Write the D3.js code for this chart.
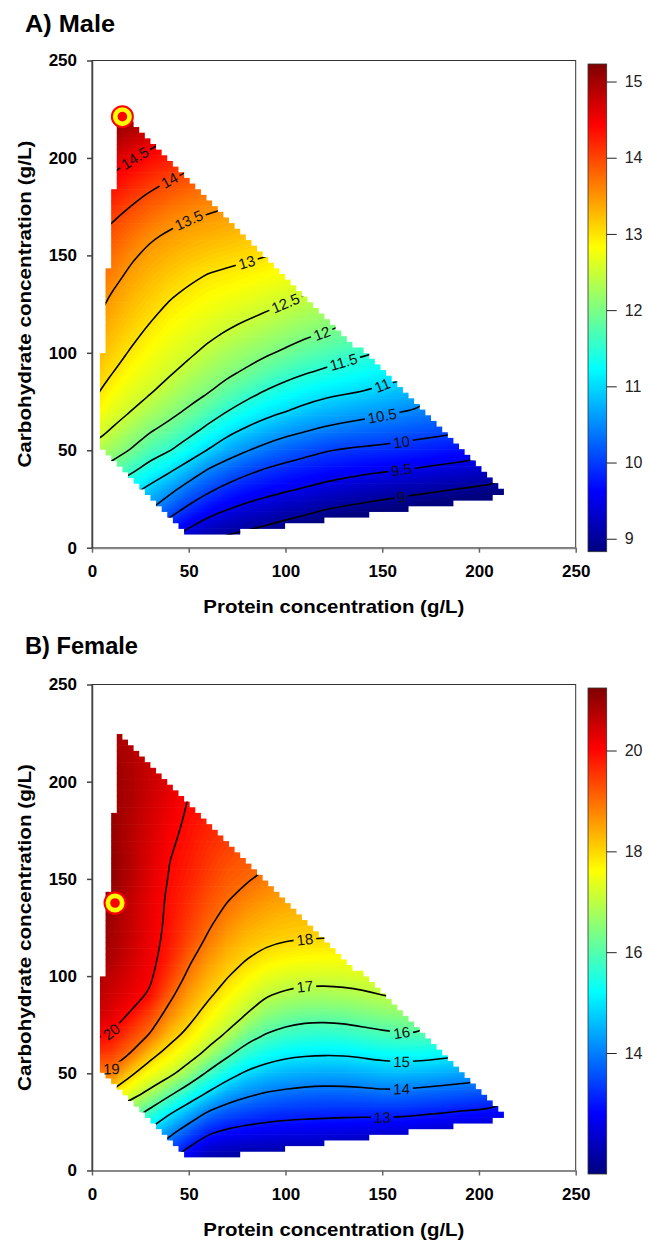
<!DOCTYPE html>
<html>
<head>
<meta charset="utf-8">
<script src="https://cdn.jsdelivr.net/npm/d3@7"></script>
<style>
  body { margin: 0; background: #fff; }
  svg text { font-family: "Liberation Sans", Arial, sans-serif; }
</style>
</head>
<body>
<svg id="chart" width="649" height="1242"></svg>
<script>
// grid nodes of the response surface (g/L)
const proteinNodes = d3.range(0, 221, 10);
const carbNodes = d3.range(0, 231, 10);

// first carbohydrate node given for each protein column
const maleStart = [40, 30, 20, 10, 0, 0, 0, 0, 0, 0, 0, 10, 10, 10, 10, 10, 10, 10, 20, 20, 20, 20, 20];
// male response, one array per protein column, carbohydrate going up in steps of 10
const maleValues = [
  [12.07, 12.43, 12.69, 12.93, 13.09, 13.22, 13.35, 13.47, 13.59, 13.70, 13.80, 13.91, 14.03, 14.20, 14.37, 14.55],
  [11.38, 11.85, 12.19, 12.47, 12.67, 12.85, 13.02, 13.14, 13.26, 13.37, 13.49, 13.63, 13.76, 13.90, 14.06, 14.26, 14.46, 14.71, 14.97, 15.20, 15.30],
  [10.76, 11.16, 11.60, 11.98, 12.24, 12.50, 12.66, 12.81, 12.97, 13.09, 13.20, 13.31, 13.43, 13.56, 13.73, 13.90, 14.09, 14.30, 14.53, 14.81, 15.08, 15.30],
  [10.09, 10.52, 10.89, 11.32, 11.70, 12.03, 12.30, 12.53, 12.67, 12.80, 12.93, 13.06, 13.17, 13.29, 13.41, 13.55, 13.75, 13.94, 14.16, 14.39, 14.65, 14.94],
  [9.33, 9.76, 10.20, 10.63, 11.07, 11.52, 11.85, 12.13, 12.35, 12.54, 12.67, 12.79, 12.91, 13.04, 13.17, 13.31, 13.45, 13.62, 13.83, 14.03, 14.27, 14.50],
  [8.97, 9.50, 9.92, 10.31, 10.79, 11.26, 11.63, 11.94, 12.17, 12.38, 12.56, 12.68, 12.81, 12.94, 13.07, 13.22, 13.37, 13.53, 13.73, 13.94, 14.14],
  [8.85, 9.27, 9.68, 10.08, 10.48, 10.98, 11.38, 11.72, 12.02, 12.22, 12.41, 12.58, 12.72, 12.85, 12.99, 13.15, 13.32, 13.48, 13.64, 13.81],
  [8.75, 9.13, 9.52, 9.88, 10.28, 10.70, 11.12, 11.50, 11.81, 12.08, 12.27, 12.47, 12.63, 12.79, 12.94, 13.10, 13.27, 13.43, 13.60],
  [8.68, 9.04, 9.39, 9.74, 10.10, 10.52, 10.92, 11.30, 11.64, 11.94, 12.16, 12.37, 12.56, 12.73, 12.89, 13.06, 13.21, 13.37],
  [8.60, 8.95, 9.30, 9.64, 9.97, 10.36, 10.76, 11.13, 11.47, 11.77, 12.05, 12.27, 12.48, 12.66, 12.83, 13.01, 13.18],
  [8.52, 8.86, 9.19, 9.55, 9.87, 10.23, 10.62, 11.01, 11.33, 11.64, 11.94, 12.17, 12.39, 12.59, 12.78, 12.96],
  [8.77, 9.12, 9.47, 9.78, 10.13, 10.52, 10.88, 11.21, 11.53, 11.81, 12.07, 12.29, 12.51, 12.70],
  [8.67, 9.02, 9.38, 9.71, 10.03, 10.42, 10.78, 11.11, 11.44, 11.72, 11.99, 12.22, 12.43],
  [8.60, 8.95, 9.31, 9.65, 9.97, 10.35, 10.71, 11.05, 11.35, 11.63, 11.89, 12.16],
  [8.55, 8.90, 9.24, 9.59, 9.93, 10.29, 10.65, 10.99, 11.27, 11.55, 11.82],
  [8.49, 8.84, 9.19, 9.55, 9.90, 10.24, 10.58, 10.90, 11.20, 11.49],
  [8.43, 8.79, 9.14, 9.50, 9.86, 10.19, 10.51, 10.82, 11.14],
  [8.36, 8.73, 9.09, 9.46, 9.81, 10.14, 10.45, 10.76],
  [8.67, 9.04, 9.41, 9.76, 10.09, 10.39],
  [8.61, 8.99, 9.36, 9.71, 10.05],
  [8.56, 8.94, 9.31, 9.67],
  [8.51, 8.89, 9.27],
  [8.46, 8.84]
];

const femaleStart = [40, 30, 20, 10, 0, 0, 0, 0, 0, 0, 0, 10, 10, 10, 10, 10, 10, 10, 20, 20, 20, 20, 20];
const femaleValues = [
  [18.40, 18.90, 19.60, 20.15, 20.55, 20.70, 20.85, 20.95, 21.05, 21.10, 21.15, 21.15, 21.15, 21.10, 21.10, 21.05],
  [16.90, 17.90, 18.87, 19.44, 19.95, 20.30, 20.50, 20.64, 20.81, 20.90, 20.94, 20.99, 21.09, 21.10, 21.05, 21.05, 21.00, 21.02, 20.97, 20.92, 20.90],
  [15.52, 16.43, 17.32, 18.13, 18.96, 19.45, 19.93, 20.23, 20.37, 20.49, 20.56, 20.59, 20.62, 20.71, 20.73, 20.72, 20.74, 20.80, 20.81, 20.78, 20.75, 20.75],
  [14.00, 14.83, 15.80, 16.84, 17.56, 18.23, 18.97, 19.40, 19.92, 20.10, 20.17, 20.22, 20.24, 20.26, 20.32, 20.37, 20.40, 20.45, 20.51, 20.55, 20.55, 20.55],
  [12.60, 13.40, 14.22, 15.11, 16.19, 17.19, 17.75, 18.27, 18.76, 19.15, 19.50, 19.74, 19.84, 19.89, 19.91, 19.97, 20.01, 20.08, 20.15, 20.23, 20.29, 20.32],
  [12.08, 12.85, 13.62, 14.53, 15.55, 16.61, 17.33, 17.83, 18.21, 18.54, 18.87, 19.15, 19.40, 19.53, 19.63, 19.74, 19.80, 19.87, 19.93, 19.98, 20.03],
  [11.50, 12.29, 13.12, 13.96, 14.95, 15.88, 16.81, 17.33, 17.73, 18.10, 18.38, 18.66, 18.94, 19.15, 19.30, 19.45, 19.55, 19.65, 19.75, 19.85],
  [11.41, 12.15, 12.89, 13.63, 14.44, 15.32, 16.15, 16.92, 17.32, 17.68, 18.03, 18.29, 18.55, 18.81, 19.04, 19.19, 19.33, 19.48, 19.60],
  [11.39, 12.08, 12.77, 13.46, 14.16, 14.89, 15.63, 16.32, 16.97, 17.34, 17.70, 18.04, 18.29, 18.55, 18.81, 19.05, 19.20, 19.35],
  [11.40, 12.05, 12.69, 13.34, 13.98, 14.66, 15.33, 15.98, 16.52, 17.04, 17.44, 17.84, 18.15, 18.39, 18.63, 18.88, 19.10],
  [11.41, 12.02, 12.64, 13.26, 13.88, 14.52, 15.15, 15.77, 16.33, 16.87, 17.31, 17.72, 18.07, 18.29, 18.52, 18.74],
  [12.02, 12.62, 13.22, 13.81, 14.44, 15.08, 15.66, 16.23, 16.78, 17.25, 17.66, 18.04, 18.25, 18.47],
  [11.99, 12.59, 13.19, 13.78, 14.41, 15.05, 15.64, 16.22, 16.77, 17.23, 17.64, 18.02, 18.23],
  [11.94, 12.56, 13.17, 13.79, 14.42, 15.06, 15.67, 16.26, 16.81, 17.25, 17.62, 18.00],
  [11.87, 12.52, 13.17, 13.82, 14.48, 15.14, 15.78, 16.35, 16.89, 17.28, 17.62],
  [11.79, 12.49, 13.18, 13.88, 14.57, 15.24, 15.88, 16.45, 16.99, 17.31],
  [11.78, 12.47, 13.17, 13.86, 14.58, 15.28, 15.95, 16.52, 17.08],
  [11.71, 12.41, 13.10, 13.80, 14.54, 15.27, 15.97, 16.58],
  [12.33, 13.04, 13.74, 14.46, 15.19, 15.96],
  [12.25, 12.96, 13.68, 14.38, 15.08],
  [12.20, 12.91, 13.61, 14.30],
  [12.13, 12.84, 13.54],
  [12.10, 12.79]
];

const maleLevels = [9, 9.5, 10, 10.5, 11, 11.5, 12, 12.5, 13, 13.5, 14, 14.5];
const femaleLevels = [13, 14, 15, 16, 17, 18, 19, 20];
const maleBarTicks = [9, 10, 11, 12, 13, 14, 15];
const femaleBarTicks = [14, 16, 18, 20];
const maleBarRange = [8.83, 15.23];
const femaleBarRange = [11.6, 21.24];

// contour labels: [level, protein, carbohydrate]
const maleLabels = [
  [14.5, 24.3, 200.5], [14, 38.5, 187.5], [13.5, 53.3, 168], [13, 82.2, 146.4],
  [12.5, 98.1, 123.7], [12, 116.6, 108.7], [11.5, 130.8, 94.6], [11, 145.8, 81.7],
  [10.5, 150.2, 67.4], [10, 157.2, 53.8], [9.5, 160.5, 39.9], [9, 162.4, 26.3]
];
const femaleLabels = [
  [20, 11.9, 72.3], [19, 13.6, 56.4], [18, 112.2, 117.7], [17, 111.8, 93.7],
  [16, 160.1, 70.6], [15, 159.7, 55.6], [14, 156.7, 41], [13, 151.6, 26.4]
];

// optimum points [protein, carbohydrate]
const maleOptimum = [15.7, 221.2];
const femaleOptimum = [11.9, 137.6];

// outline of the experimental domain [protein, carbohydrate]
const domainOutline = [[4.0, 52.8], [5.55, 100], [14.1, 223.4], [213.2, 28.5], [213.2, 26.4], [76.5, 8.35], [49.3, 7.5]];

const axisTicks = [0, 50, 100, 150, 200, 250];
const jetStops = [0, 0.125, 0.375, 0.5, 0.625, 0.875, 1];
const jetColors = ["#00007f", "#0000ff", "#00ffff", "#80ff80", "#ffff00", "#ff0000", "#7f0000"];

const svg = d3.select("#chart");
const plotLeft = 92, plotRight = 575.7;
const barLeft = 588, barWidth = 18.7;

const panels = [
  { key: "m", title: "A) Male", titleY: 32, titleW: 90, top: 60.5, bottom: 547.7, barTop: 64, barBottom: 551.7,
    start: maleStart, values: maleValues, levels: maleLevels, barTicks: maleBarTicks, barRange: maleBarRange,
    labels: maleLabels, optimum: maleOptimum },
  { key: "f", title: "B) Female", titleY: 654, titleW: 113, top: 684.5, bottom: 1170.5, barTop: 688, barBottom: 1174,
    start: femaleStart, values: femaleValues, levels: femaleLevels, barTicks: femaleBarTicks, barRange: femaleBarRange,
    labels: femaleLabels, optimum: femaleOptimum }
];

function buildGrid(start, cols) {
  const n = proteinNodes.length, m = carbNodes.length;
  const g = new Array(n * m);
  cols.forEach((col, i) => {
    const j0 = Math.round((start[i] - carbNodes[0]) / 10);
    for (let j = 0; j < m; j++) {
      // nodes beyond a column's range are only padding, they are clipped out
      const k = Math.max(0, Math.min(col.length - 1, j - j0));
      g[j * n + i] = col[k];
    }
  });
  return g;
}

// stepped raster of the domain, as drawn by the plotting package
function domainRuns() {
  const runs = [], cell = 2.9, p0 = 1.2, c0 = 1.1;
  for (let j = 0; j < 80; j++) {
    const c = c0 + (j + 0.5) * cell;
    let s = -1;
    for (let i = 0; i <= 76; i++) {
      const inside = i < 76 && d3.polygonContains(domainOutline, [p0 + (i + 0.5) * cell, c]);
      if (inside && s < 0) s = i;
      if (!inside && s >= 0) {
        runs.push({ p: p0 + s * cell, w: (i - s) * cell, c: c0 + j * cell, h: cell });
        s = -1;
      }
    }
  }
  return runs;
}
const runs = domainRuns();

const defs = svg.append("defs");

panels.forEach(p => {
  const x = d3.scaleLinear().domain([0, 250]).range([plotLeft, plotRight]);
  const y = d3.scaleLinear().domain([0, 250]).range([p.bottom, p.top]);
  const [lo, hi] = p.barRange;
  const color = d3.scaleLinear()
    .domain(jetStops.map(s => lo + s * (hi - lo)))
    .range(jetColors)
    .clamp(true);

  const n = proteinNodes.length, m = carbNodes.length;
  const grid = buildGrid(p.start, p.values);
  const step = proteinNodes[1] - proteinNodes[0];
  const toPx = ([gx, gy]) => [x(proteinNodes[0] + (gx - 0.5) * step), y(carbNodes[0] + (gy - 0.5) * step)];
  const path = d3.geoPath(d3.geoTransform({
    point(gx, gy) { const q = toPx([gx, gy]); this.stream.point(q[0], q[1]); }
  }));
  const gen = d3.contours().size([n, m]);

  // clip to domain
  defs.append("clipPath").attr("id", "dom-" + p.key)
    .selectAll("rect").data(runs).join("rect")
    .attr("x", d => x(d.p))
    .attr("width", d => x(d.p + d.w) - x(d.p))
    .attr("y", d => y(d.c + d.h) - 0.3)
    .attr("height", d => y(d.c) - y(d.c + d.h) + 0.6);

  // colour surface as thin filled bands
  const bandStep = (hi - lo) / 160;
  const th = [d3.min(grid) - 0.01].concat(d3.range(lo, hi, bandStep));
  const bands = gen.thresholds(th)(grid);
  const surf = svg.append("g").attr("clip-path", `url(#dom-${p.key})`);
  surf.selectAll("path").data(bands).join("path")
    .attr("d", path)
    .attr("fill", (d, i) => i === 0 ? color(lo) : color(d.value + bandStep / 2))
    .attr("stroke", "none");

  // contour lines
  const isos = gen.thresholds(p.levels)(grid);
  const rings = [];
  isos.forEach(c => c.coordinates.forEach(poly => poly.forEach(r => {
    rings.push({ value: c.value, pts: r.map(toPx) });
  })));

  // labels: snap to nearest point of their line
  const labelData = p.labels.map(([v, lp, lc]) => {
    const tx = x(lp), ty = y(lc);
    let best = null, bd = Infinity;
    rings.filter(r => Math.abs(r.value - v) < 1e-6).forEach(r => {
      r.pts.forEach((q, k) => {
        const dd = (q[0] - tx) ** 2 + (q[1] - ty) ** 2;
        if (dd < bd) { bd = dd; best = { r, k }; }
      });
    });
    let cx = tx, cy = ty, ang = 0;
    if (best) {
      const pts = best.r.pts, L = pts.length;
      const a = pts[(best.k - 2 + L) % L], b = pts[(best.k + 2) % L];
      cx = pts[best.k][0]; cy = pts[best.k][1];
      ang = Math.atan2(b[1] - a[1], b[0] - a[0]) * 180 / Math.PI;
      if (ang > 90) ang -= 180;
      if (ang < -90) ang += 180;
    }
    return { v, cx, cy, ang };
  });

  const mask = defs.append("mask").attr("id", "gap-" + p.key)
    .attr("maskUnits", "userSpaceOnUse")
    .attr("x", 0).attr("y", 0).attr("width", 649).attr("height", 1242);
  mask.append("rect").attr("width", 649).attr("height", 1242).attr("fill", "#fff");

  const lineGen = d3.line().curve(d3.curveBasis);
  svg.append("g").attr("clip-path", `url(#dom-${p.key})`)
    .append("g").attr("mask", `url(#gap-${p.key})`)
    .selectAll("path").data(rings).join("path")
    .attr("d", d => lineGen(d.pts))
    .attr("fill", "none")
    .attr("stroke", "#000")
    .attr("stroke-width", 1.6);

  const labs = svg.append("g").selectAll("text").data(labelData).join("text")
    .attr("transform", d => `translate(${d.cx},${d.cy}) rotate(${d.ang})`)
    .attr("text-anchor", "middle")
    .attr("dy", "0.36em")
    .attr("font-size", 15)
    .attr("fill", "#111")
    .text(d => d.v);
  labs.each(function (d) {
    const w = this.getComputedTextLength();
    mask.append("rect")
      .attr("transform", `translate(${d.cx},${d.cy}) rotate(${d.ang})`)
      .attr("x", -w / 2 - 3).attr("y", -7).attr("width", w + 6).attr("height", 14)
      .attr("fill", "#000");
  });

  // optimum marker
  svg.append("circle").attr("cx", x(p.optimum[0])).attr("cy", y(p.optimum[1])).attr("r", 10.5)
    .attr("fill", "#ffff00").attr("stroke", "#ff0000").attr("stroke-width", 2);
  svg.append("circle").attr("cx", x(p.optimum[0])).attr("cy", y(p.optimum[1])).attr("r", 4.8)
    .attr("fill", "#ff0000");

  // frame and axes
  svg.append("rect").attr("x", plotLeft).attr("y", p.top)
    .attr("width", plotRight - plotLeft).attr("height", p.bottom - p.top)
    .attr("fill", "none").attr("stroke", "#333").attr("stroke-width", 1);

  const xAxis = svg.append("g").attr("transform", `translate(0,${p.bottom})`)
    .call(d3.axisBottom(x).tickValues(axisTicks).tickSize(5).tickSizeOuter(0).tickPadding(12));
  xAxis.select(".domain").attr("stroke", "#888").attr("stroke-width", 2);
  xAxis.selectAll(".tick line").attr("stroke", "#666").attr("stroke-width", 1.5);
  xAxis.selectAll("text").attr("font-size", 17).attr("font-weight", "bold").attr("fill", "#000");

  const yAxis = svg.append("g").attr("transform", `translate(${plotLeft},0)`)
    .call(d3.axisLeft(y).tickValues(axisTicks).tickSize(5).tickSizeOuter(0).tickPadding(10));
  yAxis.select(".domain").attr("stroke", "#444").attr("stroke-width", 1.5);
  yAxis.selectAll(".tick line").attr("stroke", "#444").attr("stroke-width", 1.5);
  yAxis.selectAll("text").attr("font-size", 17).attr("font-weight", "bold").attr("fill", "#000");

  svg.append("text")
    .attr("x", (plotLeft + plotRight) / 2).attr("y", p.bottom + 65)
    .attr("text-anchor", "middle").attr("font-size", 19).attr("font-weight", "bold")
    .attr("textLength", 261).attr("lengthAdjust", "spacingAndGlyphs")
    .text("Protein concentration (g/L)");

  svg.append("text")
    .attr("transform", `translate(31,${(p.top + p.bottom) / 2}) rotate(-90)`)
    .attr("text-anchor", "middle").attr("font-size", 19).attr("font-weight", "bold")
    .attr("textLength", 327).attr("lengthAdjust", "spacingAndGlyphs")
    .text("Carbohydrate concentration (g/L)");

  svg.append("text")
    .attr("x", 25).attr("y", p.titleY)
    .attr("font-family", "Lato, 'Open Sans', sans-serif")
    .attr("font-size", 24).attr("font-weight", "bold")
    .attr("textLength", p.titleW).attr("lengthAdjust", "spacingAndGlyphs")
    .text(p.title);

  // colour bar
  const grad = defs.append("linearGradient").attr("id", "bar-" + p.key)
    .attr("x1", 0).attr("y1", 1).attr("x2", 0).attr("y2", 0);
  grad.selectAll("stop").data(jetStops).join("stop")
    .attr("offset", d => d)
    .attr("stop-color", (d, i) => jetColors[i]);
  svg.append("rect").attr("x", barLeft).attr("y", p.barTop)
    .attr("width", barWidth).attr("height", p.barBottom - p.barTop)
    .attr("fill", `url(#bar-${p.key})`).attr("stroke", "#333").attr("stroke-width", 0.8);
  const bs = d3.scaleLinear().domain([lo, hi]).range([p.barBottom, p.barTop]);
  const bAxis = svg.append("g").attr("transform", `translate(${barLeft + barWidth},0)`)
    .call(d3.axisRight(bs).tickValues(p.barTicks).tickFormat(d => String(d))
      .tickSize(10).tickSizeOuter(0).tickPadding(8));
  bAxis.select(".domain").remove();
  bAxis.selectAll(".tick line").attr("stroke", "#222");
  bAxis.selectAll("text").attr("font-size", 16).attr("fill", "#222");
});
</script>
</body>
</html>
